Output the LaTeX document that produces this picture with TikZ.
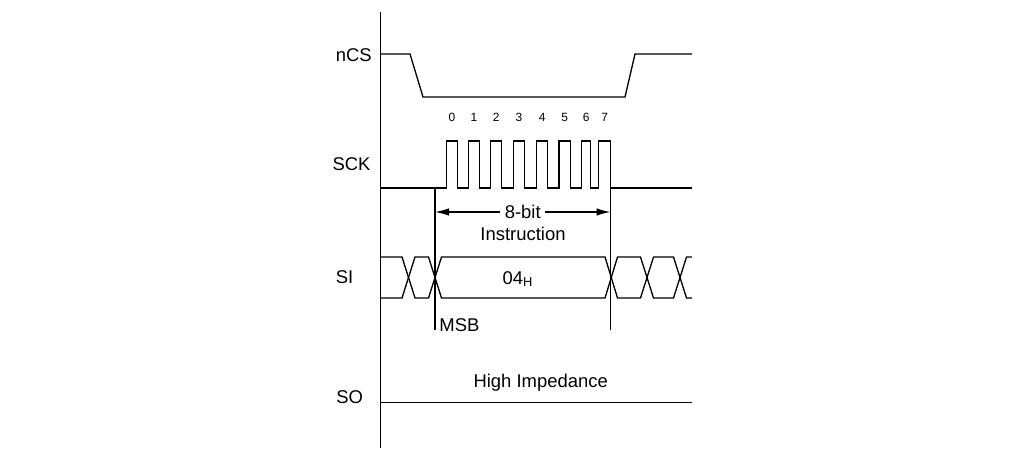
\documentclass[tikz,border=0pt]{standalone}
\usepackage{fontspec}
\setmainfont{Liberation Sans}
\usepackage{tikz}
\usetikzlibrary{arrows.meta, positioning}
\newcommand{\sckedges}{446.5/457.3, 468.7/479.3, 490.7/501.7, 513.3/524.7, 536.7/547.7, 559/570.3, 581.7/590.7, 598.7/610.5}

\begin{document}
\begin{tikzpicture}[x=0.02cm, y=-0.02cm, line width=0.75pt, font=\fontsize{10.5}{12.6}\selectfont,
	bitnum/.style={font=\fontsize{6.8}{8}\selectfont, inner sep=1pt},
	dimarrow/.style={{Latex[length=0.28cm, width=0.15cm]}-{Latex[length=0.28cm, width=0.15cm]}}]
	\useasboundingbox (0,0) rectangle (1016,456);
	\draw (380.5,12) -- (380.5,448);
	\node (ncs) at (353.8,55) {nCS};
	\node (sck) at (351.5,164) {SCK};
	\node (si) at (344.5,277.5) {SI};
	\node (so) at (349.7,397) {SO};
	\draw (380.5,54) -- (410,54) -- (423,97) -- (625,97) -- (635,54) -- (692,54);
	\draw (380.5,188) foreach \r/\f in \sckedges { -- (\r,188) -- (\r,141) -- (\f,141) -- (\f,188) } -- (692,188);
	\foreach \r/\f [count=\i from 0] in \sckedges
		\node[bitnum] (bit\i) at ({(\r+\f)/2},117) {\i};
	\coordinate (msb) at (435,188);
	\coordinate (lsb) at (610.5,188);
	\draw (msb) -- ++(0,142);
	\draw (lsb) -- ++(0,142);
	\draw[dimarrow] ([yshift=-0.48cm]msb) -- ([yshift=-0.48cm]lsb) node[midway, fill=white, inner sep=2.5pt] (bits) {8-bit};
	\node (instr) at (523,234) {Instruction};
	\foreach \a/\b in {257/298, 298/257}
		\draw (380.5,\a) -- (402,\a) -- (415,\b) -- (428.5,\b) -- (441.5,\a) -- (605,\a) -- (617.5,\b) -- (640.5,\b) -- (653.5,\a) -- (673.5,\a) -- (686.5,\b) -- (692,\b);
	\node (data) at (518,279) {04\textsubscript{H}};
	\node[anchor=west, inner sep=1pt] (msblabel) at (437,325) {MSB};
	\draw (380.5,402.5) -- (692,402.5);
	\node (hiz) at (540.7,383) {High Impedance};
\end{tikzpicture}
\end{document}
